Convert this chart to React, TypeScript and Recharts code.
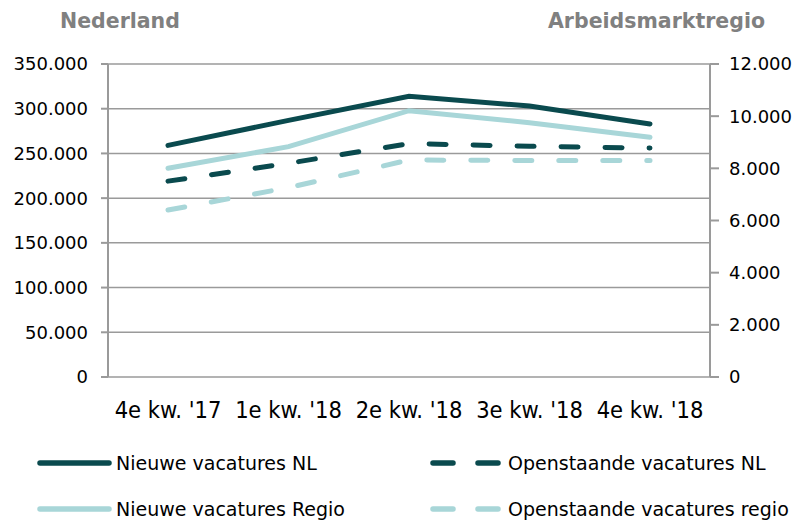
import React from "react";
import { LineChart, Line, XAxis, YAxis, CartesianGrid } from "recharts";

const categories = ["4e kw. '17", "1e kw. '18", "2e kw. '18", "3e kw. '18", "4e kw. '18"];
const nieuweNL = [259000, 287000, 314000, 303000, 283000];
const openstaandeNL = [219000, 239000, 261000, 258000, 256000];
const nieuweRegio = [8000, 8830, 10210, 9750, 9190];
const openstaandeRegio = [6400, 7260, 8320, 8300, 8300];
const leftTicks = [0, 50000, 100000, 150000, 200000, 250000, 300000, 350000];
const rightTicks = [0, 2000, 4000, 6000, 8000, 10000, 12000];
const boundaryTicks = [0, 1, 2, 3, 4, 5];

const DARK = "#0a4a4e";
const LIGHT = "#a8d6d8";
const GRID = "#9a9a9a";
const FONT_C = "'DejaVu Sans Condensed', 'DejaVu Sans', sans-serif";
const FONT = "'DejaVu Sans', sans-serif";

const data = categories.map((c, i) => ({
  cat: c,
  nNL: nieuweNL[i],
  oNL: openstaandeNL[i],
  nR: nieuweRegio[i],
  oR: openstaandeRegio[i],
}));

const fmt = (v: number) => v.toLocaleString("de-DE");

const legendItems = [
  { label: "Nieuwe vacatures NL", color: DARK, dashed: false },
  { label: "Openstaande vacatures NL", color: DARK, dashed: true },
  { label: "Nieuwe vacatures Regio", color: LIGHT, dashed: false },
  { label: "Openstaande vacatures regio", color: LIGHT, dashed: true },
];

export default function App() {
  const yTickStyle = { fill: "#000", fontSize: 18, fontFamily: FONT };
  const xTickStyle = { fill: "#000", fontSize: 23.5, fontFamily: FONT_C };
  return (
    <div style={{ position: "absolute", left: 0, top: 0, width: 797, height: 520, background: "#fff", overflow: "hidden" }}>
      <div style={{ position: "absolute", left: 60, top: 9, fontFamily: FONT, fontWeight: "bold", fontSize: 20.5, color: "#808080" }}>
        Nederland
      </div>
      <div style={{ position: "absolute", left: 548, top: 9, fontFamily: FONT, fontWeight: "bold", fontSize: 20.5, color: "#808080" }}>
        Arbeidsmarktregio
      </div>
      <LineChart width={797} height={520} data={data} margin={{ top: 64, right: 0, bottom: 100, left: 0 }}>
        <CartesianGrid vertical={false} stroke={GRID} strokeWidth={1.5} yAxisId="left" />
        <XAxis
          xAxisId="grid"
          type="number"
          domain={[0, 5]}
          ticks={boundaryTicks}
          allowDataOverflow
          height={0}
          tickFormatter={() => ""}
          stroke={GRID}
          strokeWidth={2}
          tickSize={7}
        />
        <XAxis
          xAxisId="cat"
          dataKey="cat"
          height={43}
          padding={{ left: 60, right: 60 }}
          axisLine={false}
          tickLine={false}
          tickSize={6}
          tickMargin={18}
          tick={xTickStyle}
          interval={0}
        />
        <YAxis
          yAxisId="left"
          orientation="left"
          width={108}
          domain={[0, 350000]}
          ticks={leftTicks}
          tickFormatter={fmt}
          stroke={GRID}
          strokeWidth={2}
          tickSize={7}
          tickMargin={13}
          tick={yTickStyle}
          interval={0}
        />
        <YAxis
          yAxisId="right"
          orientation="right"
          width={87}
          domain={[0, 12000]}
          ticks={rightTicks}
          tickFormatter={fmt}
          stroke={GRID}
          strokeWidth={2}
          tickSize={9}
          tickMargin={10}
          tick={yTickStyle}
          interval={0}
        />
        <Line xAxisId="cat" yAxisId="left" dataKey="nNL" stroke={DARK} strokeWidth={5} dot={false} isAnimationActive={false} strokeLinecap="round" />
        <Line xAxisId="cat" yAxisId="left" dataKey="oNL" stroke={DARK} strokeWidth={5} strokeDasharray="17 27" strokeLinecap="round" dot={false} isAnimationActive={false} />
        <Line xAxisId="cat" yAxisId="right" dataKey="nR" stroke={LIGHT} strokeWidth={5} dot={false} isAnimationActive={false} strokeLinecap="round" />
        <Line xAxisId="cat" yAxisId="right" dataKey="oR" stroke={LIGHT} strokeWidth={5} strokeDasharray="17 27" strokeLinecap="round" dot={false} isAnimationActive={false} />
      </LineChart>
      {legendItems.map((it, i) => {
        const col = i % 2;
        const row = Math.floor(i / 2);
        const left = col === 0 ? 37 : 430;
        const top = row === 0 ? 463 : 509;
        return (
          <div key={it.label} style={{ position: "absolute", left, top: top - 12, height: 24, display: "flex", alignItems: "center" }}>
            <svg width={75} height={10} style={{ display: "block" }}>
              {it.dashed ? (
                <line x1={3} y1={5} x2={72} y2={5} stroke={it.color} strokeWidth={5.5} strokeLinecap="round" strokeDasharray="20 25" />
              ) : (
                <line x1={3} y1={5} x2={72} y2={5} stroke={it.color} strokeWidth={5.5} strokeLinecap="round" />
              )}
            </svg>
            <span style={{ fontFamily: FONT, fontSize: 19, lineHeight: "24px", color: "#000", marginLeft: it.dashed ? 3 : 4, whiteSpace: "nowrap" }}>{it.label}</span>
          </div>
        );
      })}
    </div>
  );
}
